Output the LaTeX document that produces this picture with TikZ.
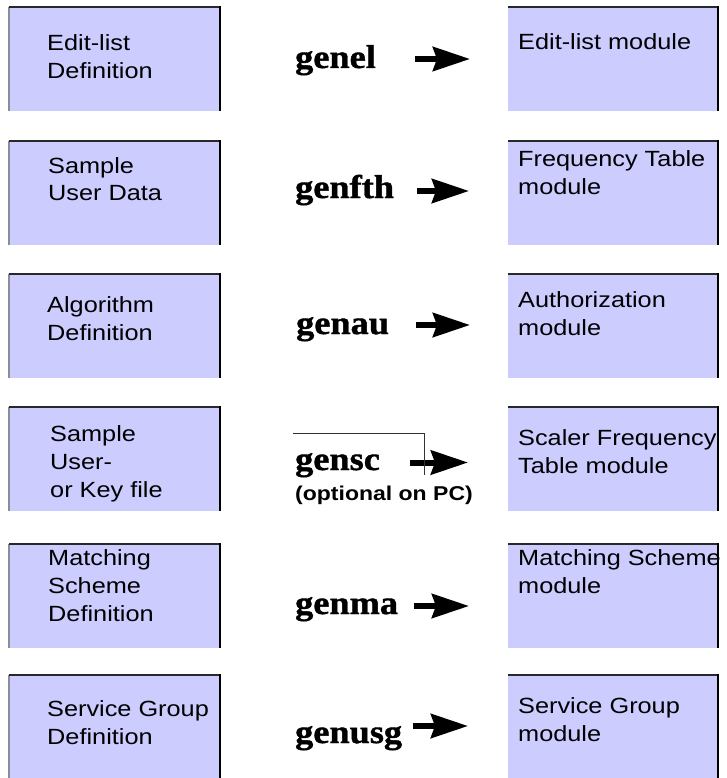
\documentclass[tikz,border=0pt]{standalone}
\usepackage{fontspec}
\usetikzlibrary{arrows.meta}
\newfontfamily\boxsans[FakeStretch=1.15]{Liberation Sans}
\newfontfamily\genserif[FakeStretch=1.1,FakeBold=1.2]{Liberation Serif}
\definecolor{boxfill}{RGB}{204,204,255}
\definecolor{edgedark}{RGB}{40,40,40}
\definecolor{edgegrey}{RGB}{140,140,150}
\tikzset{
  boxnode/.style={fill=boxfill, inner sep=0pt, anchor=north west, minimum width=211pt, minimum height=103.5pt},
  topedge/.style={draw=edgedark, line width=2pt},
  rightedge/.style={draw=black, line width=2pt},
  leftedge/.style={draw=edgegrey, line width=2pt},
  boxtext/.style={anchor=base west, inner sep=0pt, font=\boxsans\fontsize{22}{28}\selectfont},
  gentext/.style={anchor=base west, inner sep=0pt, font=\genserif\bfseries\fontsize{33}{36}\selectfont},
  opttext/.style={anchor=base west, inner sep=0pt, font=\boxsans\bfseries\fontsize{20}{24}\selectfont},
  bigarrow/.style={line width=6pt, -{Stealth[length=37pt,width=24pt,inset=4pt]}},
  thinline/.style={draw=black!80, line width=1pt},
}
\newcommand{\lines}[1]{\begin{tabular}[t]{@{}l@{}}#1\end{tabular}}
\begin{document}
\begin{tikzpicture}[x=1pt,y=-1pt]
\useasboundingbox (0,0) rectangle (726,778);
\begin{scope}
\clip (0,0) rectangle (726,778);
% left boxes
\node[boxnode] (L1) at (9,7.5) {};
\node[boxnode] (L2) at (9,141.5) {};
\node[boxnode] (L3) at (9,274) {};
\node[boxnode] (L4) at (9,407) {};
\node[boxnode] (L5) at (9,544) {};
\node[boxnode, minimum height=110pt] (L6) at (9,675) {};
% right boxes
\node[boxnode, minimum width=210pt] (R1) at (508,7.5) {};
\node[boxnode, minimum width=210pt] (R2) at (508,141.5) {};
\node[boxnode, minimum width=210pt] (R3) at (508,274) {};
\node[boxnode, minimum width=210pt] (R4) at (508,407) {};
\node[boxnode, minimum width=210pt] (R5) at (508,544) {};
\node[boxnode, minimum width=210pt, minimum height=110pt] (R6) at (508,675) {};
\foreach \b in {L1,L2,L3,L4,L5,L6} {
  \draw[leftedge] (\b.north west) -- (\b.south west);
}
\foreach \b in {L1,L2,L3,L4,L5,L6,R1,R2,R3,R4,R5,R6} {
  \draw[topedge] (\b.north west) -- (\b.north east);
  \draw[rightedge] ([yshift=1pt]\b.north east) -- (\b.south east);
}
\end{scope}
% left texts
\node[boxtext] (lt1) at (47,50.5) {\lines{Edit-list\\Definition}};
\node[boxtext] (lt2) at (48,173) {\lines{Sample\\User Data}};
\node[boxtext] (lt3) at (47,312) {\lines{Algorithm\\Definition}};
\node[boxtext] (lt4) at (50,441.5) {\lines{Sample\\User-\\or Key file}};
\node[boxtext] (lt5) at (48,565) {\lines{Matching\\Scheme\\Definition}};
\node[boxtext] (lt6) at (47,716.5) {\lines{Service Group\\Definition}};
% right texts
\node[boxtext] (rt1) at (518,50) {\lines{Edit-list module}};
\node[boxtext] (rt2) at (518,166.5) {\lines{Frequency Table\\module}};
\node[boxtext] (rt3) at (518,307) {\lines{Authorization\\module}};
\node[boxtext] (rt4) at (518,445) {\lines{Scaler Frequency\\Table module}};
\node[boxtext] (rt5) at (518,565) {\lines{Matching Scheme\\module}};
\node[boxtext] (rt6) at (518,713) {\lines{Service Group\\module}};
% generator names
\node[gentext] (g1) at (295,68) {genel};
\node[gentext] (g2) at (295,198) {genfth};
\node[gentext] (g3) at (296,334) {genau};
\node[gentext] (g4) at (295,470) {gensc};
\node[gentext] (g5) at (295,614) {genma};
\node[gentext] (g6) at (295,743) {genusg};
\node[opttext] (opt) at (295,500) {(optional on PC)};
% arrows
\coordinate (a1s) at (415,59);   \coordinate (a1e) at (470,59);
\coordinate (a2s) at (416.5,191); \coordinate (a2e) at (469,191);
\coordinate (a3s) at (416,325);  \coordinate (a3e) at (470,325);
\coordinate (a4s) at (410,462.5); \coordinate (a4e) at (468,462.5);
\coordinate (a5s) at (414,606);  \coordinate (a5e) at (469,606);
\coordinate (a6s) at (412.5,726); \coordinate (a6e) at (468,726);
\draw[bigarrow] (a1s) -- (a1e);
\draw[bigarrow] (a2s) -- (a2e);
\draw[bigarrow] (a3s) -- (a3e);
\draw[bigarrow] (a4s) -- (a4e);
\draw[bigarrow] (a5s) -- (a5e);
\draw[bigarrow] (a6s) -- (a6e);
% thin line at gensc
\coordinate (c1) at (293,433);
\coordinate (c2) at (424,433);
\coordinate (c3) at (424,475);
\draw[thinline] (c1) -- (c2) -- (c3);
\end{tikzpicture}
\end{document}
